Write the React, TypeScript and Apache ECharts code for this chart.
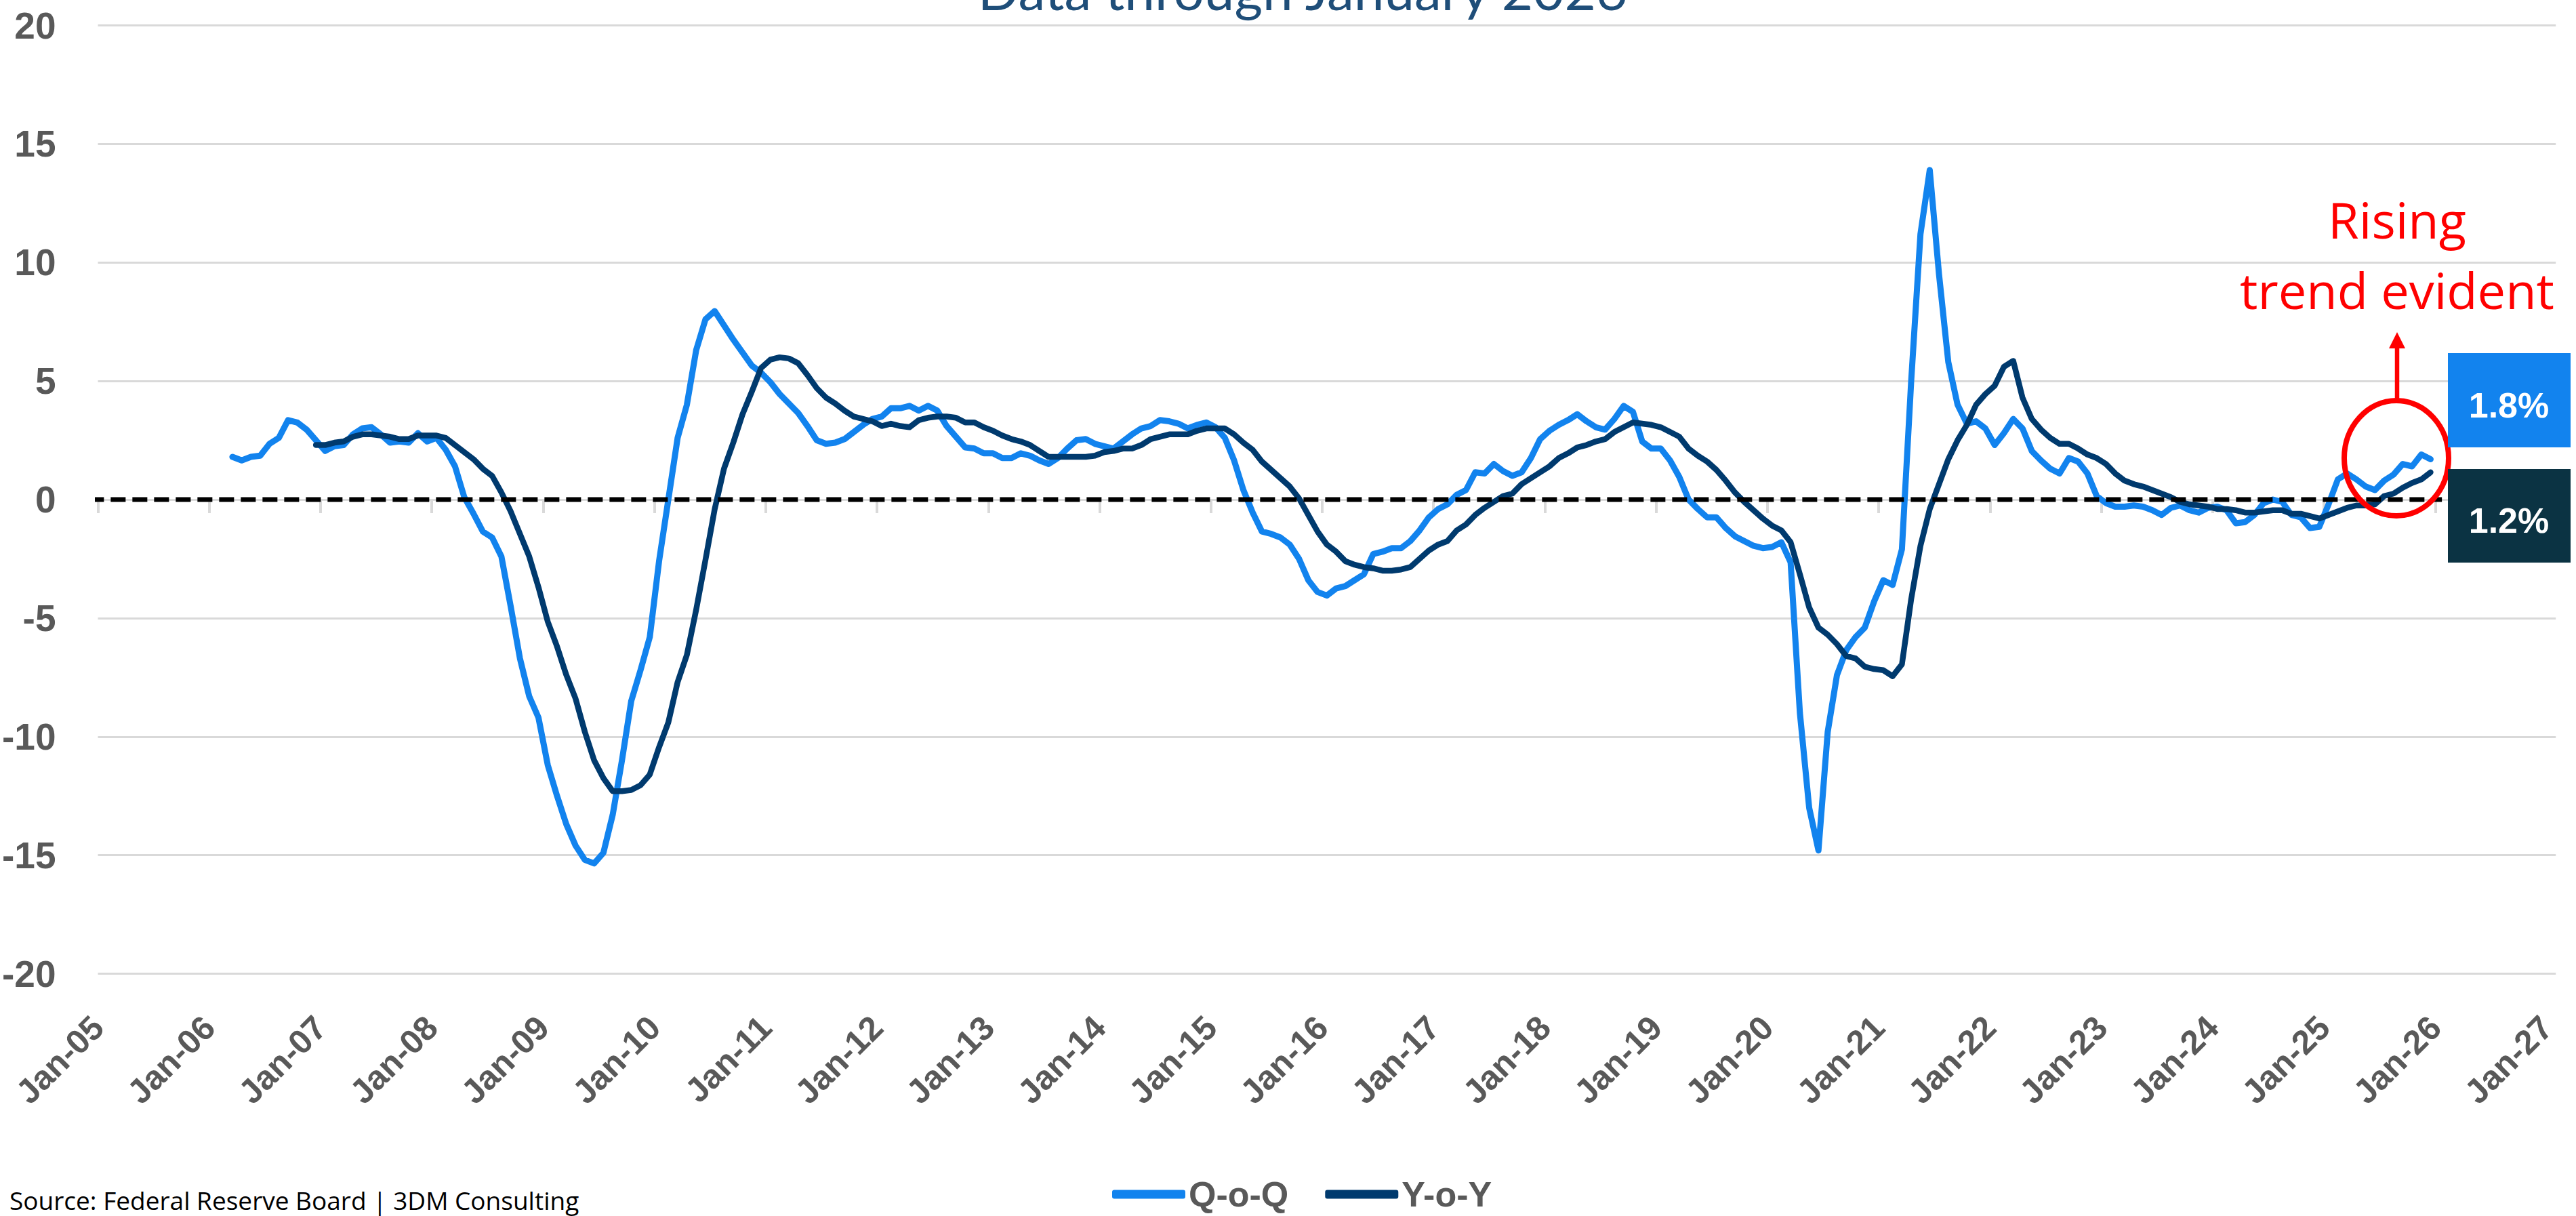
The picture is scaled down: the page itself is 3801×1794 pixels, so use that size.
import React, { useEffect, useRef } from "react";
import * as echarts from "echarts";

// ---------------- DATA ----------------
const seriesNames = ["Q-o-Q", "Y-o-Y"];
const titleText = "Data through January 2026";
const sourceText = "Source: Federal Reserve Board | 3DM Consulting";
const annotationLines = ["Rising", "trend evident"];
const latestLabels = ["1.8%", "1.2%"];

// first observation of each series (year, month 1-12)
const qoqStart = [2006, 3];
const yoyStart = [2006, 12];

// Q-o-Q, monthly, Mar-2006 .. Dec-2025
const qoqValues = [
  1.8, 1.65, 1.8, 1.85, 2.35, 2.6, 3.35, 3.25, 2.95, 2.5,
  2.05, 2.25, 2.3, 2.75, 3.0, 3.05, 2.75, 2.4, 2.45, 2.4,
  2.8, 2.45, 2.6, 2.1, 1.4, 0.1, -0.6, -1.35, -1.6, -2.4,
  -4.5, -6.7, -8.3, -9.2, -11.2, -12.5, -13.7, -14.6, -15.2, -15.35,
  -14.9, -13.3, -11.0, -8.5, -7.2, -5.8, -2.6, 0.0, 2.6,
  4.0, 6.3, 7.6, 7.95, 7.35, 6.75, 6.2, 5.65, 5.35, 4.95,
  4.45, 4.05, 3.65, 3.1, 2.5, 2.35, 2.4, 2.55, 2.85, 3.15,
  3.4, 3.5, 3.85, 3.85, 3.95, 3.75, 3.95, 3.75, 3.1, 2.65,
  2.2, 2.15, 1.95, 1.95, 1.75, 1.75, 1.95, 1.85, 1.65, 1.5,
  1.75, 2.15, 2.5, 2.55, 2.35, 2.25, 2.15, 2.45, 2.75, 3.0,
  3.1, 3.35,
  3.3, 3.2, 3.0, 3.15, 3.25, 3.05, 2.6, 1.65, 0.4, -0.55,
  -1.35, -1.45, -1.6, -1.9, -2.5, -3.4, -3.9, -4.05, -3.75, -3.65,
  -3.4, -3.15, -2.3, -2.2, -2.05, -2.05, -1.75, -1.3, -0.75, -0.4,
  -0.2, 0.2, 0.4, 1.15, 1.1, 1.5, 1.2, 1.0, 1.15, 1.75,
  2.55, 2.9, 3.15, 3.35, 3.6, 3.3, 3.05, 2.95, 3.4, 3.95,
  3.7, 2.45, 2.15,
  2.15, 1.65, 0.95, 0.0, -0.4, -0.75, -0.75, -1.2, -1.55, -1.75,
  -1.95, -2.05, -2.0, -1.8, -2.65, -9.0, -13.0, -14.8, -9.8, -7.4,
  -6.35, -5.8, -5.4, -4.3, -3.4, -3.6, -2.1, 5.0, 11.2, 13.9,
  9.5, 5.8, 4.0, 3.2, 3.3, 3.0, 2.3, 2.8, 3.4, 3.0,
  2.05, 1.65, 1.3, 1.1, 1.75, 1.6, 1.1, 0.15, -0.15, -0.3,
  -0.3, -0.25,
  -0.3, -0.45, -0.65, -0.35, -0.25, -0.45, -0.55, -0.35, -0.3, -0.45,
  -1.0, -0.95, -0.65, -0.15, 0.0, -0.1, -0.65, -0.75, -1.2, -1.15,
  -0.2, 0.85, 1.1, 0.85, 0.55, 0.4, 0.8, 1.05, 1.5, 1.4,
  1.9, 1.7,
];

// Y-o-Y, monthly, Dec-2006 .. Dec-2025
const yoyValues = [
  2.3, 2.3, 2.4, 2.45, 2.65, 2.75, 2.75, 2.7, 2.65, 2.55,
  2.55, 2.7, 2.7, 2.7, 2.6, 2.3, 2.0, 1.7, 1.3, 1.0,
  0.3, -0.5, -1.45, -2.4, -3.7, -5.15, -6.2, -7.4, -8.4, -9.8,
  -11.0, -11.75, -12.3, -12.3, -12.25, -12.05, -11.6, -10.45, -9.4, -7.7,
  -6.55, -4.65, -2.55, -0.4, 1.3, 2.4, 3.6, 4.55, 5.55, 5.9,
  6.0, 5.95, 5.75, 5.25, 4.7, 4.3, 4.05, 3.75, 3.5, 3.4,
  3.3, 3.1, 3.2, 3.1, 3.05, 3.35, 3.45, 3.5, 3.5, 3.45,
  3.25, 3.25, 3.05, 2.9, 2.7, 2.55, 2.45, 2.3, 2.05, 1.8,
  1.8, 1.8, 1.8, 1.8, 1.85, 2.0, 2.05, 2.15, 2.15, 2.3,
  2.55, 2.65,
  2.75, 2.75, 2.75, 2.9, 3.0, 3.0, 3.0, 2.75, 2.4, 2.1,
  1.6, 1.25, 0.9, 0.55, 0.05, -0.65, -1.35, -1.9, -2.2, -2.6,
  -2.75, -2.85, -2.9, -3.0, -3.0, -2.95, -2.85, -2.5, -2.15, -1.9,
  -1.75, -1.3, -1.05, -0.65, -0.35, -0.1, 0.15, 0.25, 0.65, 0.9,
  1.15, 1.4, 1.75, 1.95, 2.2, 2.3, 2.45, 2.55, 2.85, 3.05,
  3.25, 3.2, 3.15,
  3.05, 2.85, 2.65, 2.15, 1.85, 1.6, 1.25, 0.8, 0.3, -0.1,
  -0.45, -0.8, -1.1, -1.3, -1.8, -3.15, -4.55, -5.4, -5.7, -6.1,
  -6.6, -6.7, -7.05, -7.15, -7.2, -7.45, -6.95, -4.2, -1.95, -0.4,
  0.65, 1.7, 2.5, 3.15, 4.0, 4.45, 4.8, 5.6, 5.85, 4.3,
  3.4, 2.95, 2.6, 2.35, 2.35, 2.15, 1.9, 1.75, 1.5, 1.1,
  0.8, 0.65,
  0.55, 0.4, 0.25, 0.1, -0.1, -0.2, -0.25, -0.3, -0.4, -0.4,
  -0.45, -0.55, -0.55, -0.5, -0.45, -0.45, -0.6, -0.6, -0.7, -0.8,
  -0.65, -0.5, -0.35, -0.25, -0.25, -0.2, 0.15, 0.25, 0.5, 0.7,
  0.85, 1.15,
];

// x-axis tick years (labels "Jan-YY")
const tickYears = [
  2005, 2006, 2007, 2008, 2009, 2010, 2011, 2012, 2013, 2014, 2015, 2016,
  2017, 2018, 2019, 2020, 2021, 2022, 2023, 2024, 2025, 2026, 2027,
];
const yMin = -20;
const yMax = 20;
const yStep = 5;
const xMin = 2005;
const xMax = 2027 + 1 / 12;
// extent of the dashed zero reference line (decimal years)
const zeroLineExtent = [2004.92, 2026.06];

// ---------------- HELPERS ----------------
const monthToX = (start: number[], i: number) =>
  start[0] + (start[1] - 1 + i + 0.5) / 12;

const buildSeries = (start: number[], values: number[]) =>
  values.map((v, i) => [monthToX(start, i), v]);

const C_LIGHT = "#1283EE";
const C_DARK = "#003A6E";
const C_BOX_DARK = "#0B3343";
const C_AXIS_TEXT = "#595959";
const C_GRID = "#D9D9D9";
const FONT = "Liberation Sans";

export default function App() {
  const ref = useRef<HTMLDivElement>(null);

  useEffect(() => {
    if (!ref.current) return;
    const chart = echarts.init(ref.current, undefined, { renderer: "svg" });

    const option: any = {
      animation: false,
      backgroundColor: "#ffffff",
      grid: {
        left: 138.5,
        top: 37.5,
        width: 3632.7,
        height: 1399,
        containLabel: false,
      },
      legend: {
        data: seriesNames,
        left: 1636,
        top: 1731,
        icon: "roundRect",
        itemWidth: 108,
        itemHeight: 13,
        itemGap: 54,
        textStyle: {
          fontSize: 52,
          fontWeight: "bold",
          color: C_AXIS_TEXT,
          fontFamily: FONT,
        },
      },
      xAxis: [
        {
          type: "value",
          min: xMin,
          max: xMax,
          position: "bottom",
          axisLine: { show: false, onZero: false },
          axisTick: { show: false },
          splitLine: { show: false },
          axisLabel: {
            show: true,
            rotate: 45,
            margin: 71,
            fontSize: 50,
            fontWeight: "bold",
            color: C_AXIS_TEXT,
            fontFamily: FONT,
            customValues: tickYears,
            formatter: (v: number) => {
              const r = Math.round(v);
              if (Math.abs(v - r) > 1e-6) return "";
              return "Jan-" + String(r).slice(2);
            },
          },
        },
        {
          type: "value",
          min: xMin,
          max: xMax,
          position: "bottom",
          axisLine: {
            show: true,
            onZero: true,
            lineStyle: { color: C_GRID, width: 3 },
          },
          axisTick: {
            show: true,
            length: 20,
            customValues: tickYears,
            lineStyle: { color: C_GRID, width: 4 },
          },
          axisLabel: { show: false },
          splitLine: { show: false },
        },
      ],
      yAxis: {
        type: "value",
        min: yMin,
        max: yMax,
        interval: yStep,
        axisLine: { show: false },
        axisTick: { show: false },
        axisLabel: {
          margin: 62,
          fontSize: 55,
          fontWeight: "bold",
          color: C_AXIS_TEXT,
          fontFamily: FONT,
        },
        splitLine: { lineStyle: { color: C_GRID, width: 3 } },
      },
      series: [
        {
          name: seriesNames[0],
          type: "line",
          xAxisIndex: 0,
          data: buildSeries(qoqStart, qoqValues),
          symbol: "none",
          showSymbol: false,
          itemStyle: { color: C_LIGHT },
          lineStyle: { color: C_LIGHT, width: 9, cap: "round", join: "round" },
          z: 3,
        },
        {
          name: seriesNames[1],
          type: "line",
          xAxisIndex: 0,
          data: buildSeries(yoyStart, yoyValues),
          symbol: "none",
          showSymbol: false,
          itemStyle: { color: C_DARK },
          lineStyle: { color: C_DARK, width: 8.5, cap: "round", join: "round" },
          z: 4,
        },
        {
          name: "zero",
          type: "line",
          xAxisIndex: 0,
          data: [
            [zeroLineExtent[0], 0],
            [zeroLineExtent[1], 0],
          ],
          symbol: "none",
          showSymbol: false,
          silent: true,
          clip: false,
          lineStyle: { color: "#000000", width: 7, type: [22, 10] },
          z: 5,
        },
      ],
      graphic: [
        {
          type: "text",
          x: 1922,
          y: -16,
          style: {
            text: titleText,
            fill: "#1F4E79",
            fontSize: 80,
            fontFamily: "Lato",
            fontWeight: 400,
            align: "center",
            verticalAlign: "middle",
          },
        },
        {
          type: "text",
          x: 14,
          y: 1770,
          style: {
            text: sourceText,
            fill: "#000000",
            fontSize: 37,
            fontFamily: "Open Sans",
            align: "left",
            verticalAlign: "middle",
          },
        },
        {
          type: "text",
          x: 3537,
          y: 323,
          style: {
            text: annotationLines[0],
            fill: "#FF0000",
            fontSize: 74,
            fontFamily: "Open Sans",
            align: "center",
            verticalAlign: "middle",
          },
        },
        {
          type: "text",
          x: 3537,
          y: 427,
          style: {
            text: annotationLines[1],
            fill: "#FF0000",
            fontSize: 74,
            fontFamily: "Open Sans",
            align: "center",
            verticalAlign: "middle",
          },
        },
        {
          type: "ellipse",
          shape: { cx: 3536, cy: 676, rx: 77, ry: 85 },
          style: { fill: "none", stroke: "#FF0000", lineWidth: 8 },
          z: 100,
        },
        {
          type: "line",
          shape: { x1: 3537, y1: 591, x2: 3537, y2: 508 },
          style: { stroke: "#FF0000", lineWidth: 6.5 },
          z: 100,
        },
        {
          type: "polygon",
          shape: {
            points: [
              [3525, 514],
              [3549, 514],
              [3537, 490],
            ],
          },
          style: { fill: "#FF0000" },
          z: 100,
        },
        {
          type: "rect",
          shape: { x: 3612, y: 521, width: 181, height: 139 },
          style: { fill: C_LIGHT },
          z: 100,
        },
        {
          type: "text",
          x: 3702,
          y: 598,
          style: {
            text: latestLabels[0],
            fill: "#FFFFFF",
            fontSize: 52,
            fontWeight: "bold",
            fontFamily: FONT,
            align: "center",
            verticalAlign: "middle",
          },
          z: 101,
        },
        {
          type: "rect",
          shape: { x: 3612, y: 692, width: 181, height: 138 },
          style: { fill: C_BOX_DARK },
          z: 100,
        },
        {
          type: "text",
          x: 3702,
          y: 768,
          style: {
            text: latestLabels[1],
            fill: "#FFFFFF",
            fontSize: 52,
            fontWeight: "bold",
            fontFamily: FONT,
            align: "center",
            verticalAlign: "middle",
          },
          z: 101,
        },
      ],
    };

    chart.setOption(option);
    return () => {
      chart.dispose();
    };
  }, []);

  return (
    <div
      ref={ref}
      style={{
        position: "fixed",
        left: 0,
        top: 0,
        width: 3801,
        height: 1794,
        background: "#ffffff",
      }}
    />
  );
}
